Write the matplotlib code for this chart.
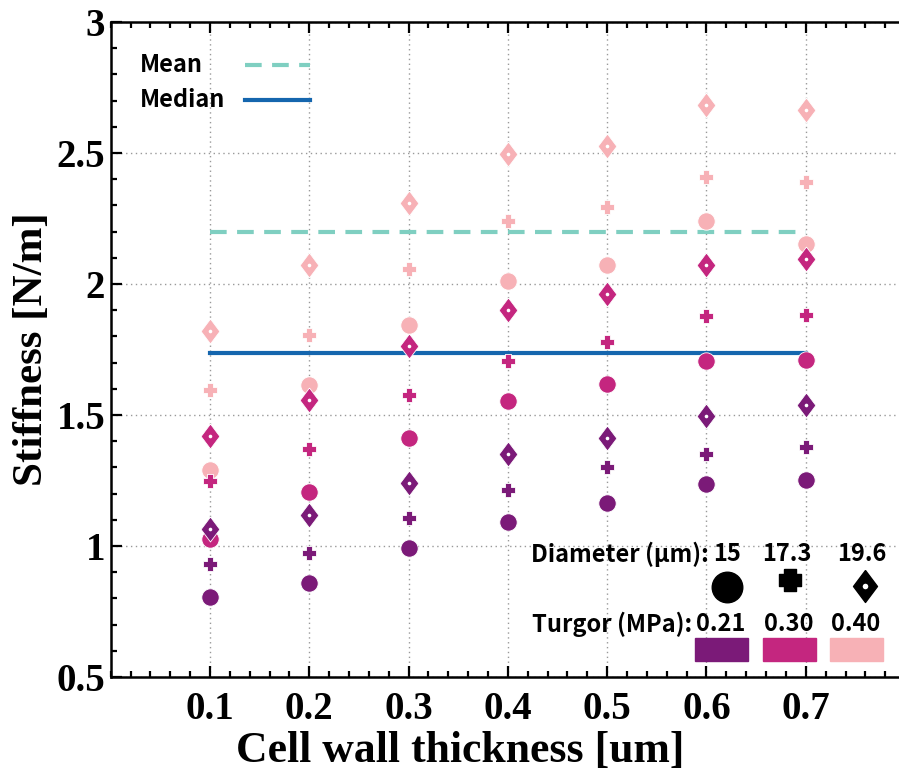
import numpy as np
import matplotlib
matplotlib.use("Agg")
import matplotlib.pyplot as plt
from matplotlib.patches import Rectangle
from matplotlib.ticker import MultipleLocator, FormatStrFormatter
from matplotlib.font_manager import FontProperties

# cell wall thickness (um)
thickness = [0.1, 0.2, 0.3, 0.4, 0.5, 0.6, 0.7]

# stiffness [N/m], one list per turgor (MPa) and diameter (um)
stiff_021_d15 = [0.805, 0.859, 0.992, 1.092, 1.166, 1.236, 1.253]
stiff_021_d173 = [0.931, 0.974, 1.105, 1.213, 1.301, 1.353, 1.378]
stiff_021_d196 = [1.064, 1.117, 1.242, 1.353, 1.412, 1.495, 1.537]
stiff_030_d15 = [1.026, 1.206, 1.412, 1.553, 1.619, 1.708, 1.711]
stiff_030_d173 = [1.247, 1.372, 1.577, 1.705, 1.778, 1.877, 1.882]
stiff_030_d196 = [1.418, 1.559, 1.763, 1.899, 1.960, 2.074, 2.096]
stiff_040_d15 = [1.289, 1.615, 1.844, 2.010, 2.073, 2.242, 2.153]
stiff_040_d173 = [1.594, 1.806, 2.058, 2.239, 2.292, 2.409, 2.388]
stiff_040_d196 = [1.822, 2.073, 2.311, 2.497, 2.527, 2.683, 2.663]

stiff_mean = 2.20
stiff_median = 1.735

turgor_labels = ["0.21", "0.30", "0.40"]
diameter_labels = ["15", "17.3", "19.6"]
turgor_colors = ["#7b1a78", "#c4267f", "#f7b1b6"]

W, H = 899, 769
fig = plt.figure(figsize=(W / 100, H / 100), dpi=100)


def fpos(x, y):
    return x / W, 1 - y / H


x0, y0 = fpos(110.7, 677)
ax = fig.add_axes([x0, y0, 794.4 / W, 655 / H])

diamond = [(0, 1), (0.75, 0), (0, -1), (-0.75, 0), (0, 1)]
w = 0.52
plus = [(-w, 1), (w, 1), (w, w), (1, w), (1, -w), (w, -w), (w, -1), (-w, -1),
        (-w, -w), (-1, -w), (-1, w), (-w, w), (-w, 1)]

series = [
    (stiff_040_d15, stiff_040_d173, stiff_040_d196, turgor_colors[2]),
    (stiff_030_d15, stiff_030_d173, stiff_030_d196, turgor_colors[1]),
    (stiff_021_d15, stiff_021_d173, stiff_021_d196, turgor_colors[0]),
]

ax.plot([thickness[0], thickness[-1]], [stiff_mean] * 2, color="#7fcfc1",
        lw=3, dashes=(4, 2.5), zorder=2)
ax.plot([thickness[0], thickness[-1]], [stiff_median] * 2, color="#1566ae",
        lw=3, zorder=2)

for d15, d173, d196, c in series:
    ax.plot(thickness, d15, 'o', ms=12.5, color=c, mec='white', mew=0.6,
            ls='none', zorder=3)
    ax.plot(thickness, d173, marker=plus, ms=9.5, color=c, mec='white', mew=0.6,
            ls='none', zorder=3)
    ax.plot(thickness, d196, marker=diamond, ms=18, color=c, mec='white',
            mew=0.6, ls='none', zorder=3)
    ax.plot(thickness, d196, 'o', ms=2.6, color='white', mew=0,
            ls='none', zorder=3)

ax.set_xlim(0, 0.8)
ax.set_ylim(0.5, 3)
ax.set_xticks(thickness)
ax.xaxis.set_minor_locator(MultipleLocator(0.02))
ax.yaxis.set_major_locator(MultipleLocator(0.5))
ax.yaxis.set_minor_locator(MultipleLocator(0.1))
ax.yaxis.set_major_formatter(FormatStrFormatter('%g'))
ax.xaxis.set_major_formatter(FormatStrFormatter('%g'))
ax.grid(True, which='major', color='#999999', ls=(0, (1, 2.5)), lw=1)
ax.set_axisbelow(True)

ax.tick_params(which='both', direction='in', top=True, right=False, width=1.6)
ax.tick_params(which='major', length=8)
ax.tick_params(which='minor', length=4)
ax.tick_params(axis='x', pad=10)
ax.tick_params(axis='y', pad=4)
for s in ax.spines.values():
    s.set_linewidth(1.8)
ax.spines['right'].set_visible(False)

serif = {'family': 'Liberation Serif', 'weight': 'bold'}
for lab in ax.get_xticklabels() + ax.get_yticklabels():
    lab.set_fontproperties(FontProperties(size=28, **serif))

ax.set_xlabel("Cell wall thickness [um]", fontsize=31.5, **serif)
ax.xaxis.set_label_coords((460 - 110.7) / 794.4, -0.082, transform=ax.transAxes)
ax.xaxis.label.set_va('top')
ax.set_ylabel("Stiffness [N/m]", fontsize=31, labelpad=4, **serif)

# line legend
sans = {'family': ['Noto Sans CJK JP', 'DejaVu Sans'], 'weight': 'bold',
        'fontsize': 17}
for name, yy, style in [("Mean", 65, dict(color="#7fcfc1", dashes=(4, 2.5))),
                        ("Median", 100, dict(color="#1566ae"))]:
    fig.text(*fpos(140, yy), name, ha='left', va='center', **sans)
    fig.add_artist(plt.Line2D([245 / W, 310 / W], [1 - yy / H] * 2, lw=3, **style))

# marker and colour key
fig.text(*fpos(709, 554), "Diameter (µm):", ha='right', va='center', **sans)
for lab, xx in zip(diameter_labels, [727, 787, 862]):
    fig.text(*fpos(xx, 554), lab, ha='center', va='center', **sans)
key_markers = [('o', 22, 727, 587), (plus, 16, 790, 580), (diamond, 23, 865, 586)]
for m, ms, xx, yy in key_markers:
    fig.add_artist(plt.Line2D([xx / W], [1 - yy / H], marker=m, ms=ms,
                              color='black', mec='black', ls='none'))
fig.add_artist(plt.Line2D([865 / W], [1 - 586 / H], marker='o', ms=4,
                          color='white', mew=0, ls='none'))

fig.text(*fpos(692, 624), "Turgor (MPa):", ha='right', va='center', **sans)
for lab, xx, c in zip(turgor_labels, [721, 789, 856], turgor_colors):
    fig.text(*fpos(xx, 624), lab, ha='center', va='center', **sans)
    rx, ry = fpos(xx - 26, 661)
    fig.add_artist(Rectangle((rx, ry), 53 / W, 23 / H, color=c,
                             transform=fig.transFigure))

fig.savefig("out.png", dpi=100)
